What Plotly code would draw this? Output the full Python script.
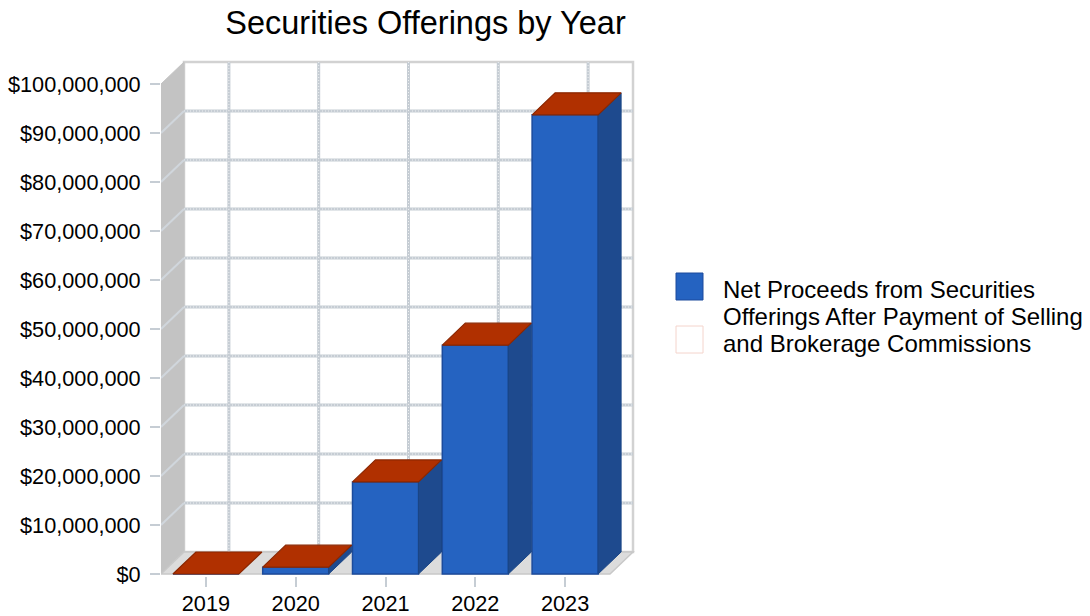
import plotly.graph_objects as go

# ---- data ----
years = ["2019", "2020", "2021", "2022", "2023"]
net_proceeds = [0, 1_400_000, 18_800_000, 46_700_000, 93_700_000]
tick_values = [0, 10_000_000, 20_000_000, 30_000_000, 40_000_000, 50_000_000,
               60_000_000, 70_000_000, 80_000_000, 90_000_000, 100_000_000]
tick_labels = ["$0", "$10,000,000", "$20,000,000", "$30,000,000", "$40,000,000",
               "$50,000,000", "$60,000,000", "$70,000,000", "$80,000,000",
               "$90,000,000", "$100,000,000"]
title_text = "Securities Offerings by Year"
legend_lines = ["Net Proceeds from Securities",
                "Offerings After Payment of Selling",
                "and Brokerage Commissions"]

# ---- geometry (pixels) ----
W, H = 1090, 616
FRONT_L, FRONT_R = 161, 610
FRONT_BOT, FRONT_TOP = 574, 84
DEPTH_X, DEPTH_Y = 23, 22
PAD_R, PAD_T, PAD_B = 3, 3, 2

n = len(years)
ymax = tick_values[-1]
ux = n / (FRONT_R - FRONT_L)           # data units per px (x)
uy = ymax / (FRONT_BOT - FRONT_TOP)    # data units per px (y)
dx = DEPTH_X * ux
dy = DEPTH_Y * uy
bar_w = 0.735

x_lo, x_hi = -0.5, n - 0.5 + dx + PAD_R * ux
y_lo, y_hi = -PAD_B * uy, ymax + dy + PAD_T * uy

plot_w = FRONT_R - FRONT_L + DEPTH_X + PAD_R
plot_h = FRONT_BOT - FRONT_TOP + DEPTH_Y + PAD_T + PAD_B
m_l = FRONT_L
m_r = W - m_l - plot_w
m_b = H - (FRONT_BOT + PAD_B)
m_t = H - m_b - plot_h

def px2paper_x(px):
    return (px - m_l) / plot_w

def px2paper_y(py):
    return (H - m_b - py) / plot_h

FONT = "Liberation Sans, Arial, sans-serif"
AX_FONT = 21.7
C_FRONT = "#2563C1"
C_FRONT_LINE = "#1C4B9C"
C_SIDE = "#1E4A8E"
C_TOP = "#B03000"
C_TOP_LINE = "#8A2600"
C_GRID = "#C6CDD4"

fig = go.Figure()

# front faces
fig.add_trace(go.Bar(
    x=list(range(n)), y=net_proceeds, width=bar_w,
    marker=dict(color=C_FRONT, line=dict(color=C_FRONT_LINE, width=1.5)),
    showlegend=False, hoverinfo="skip",
))

# side and top faces
for i, v in enumerate(net_proceeds):
    x0, x1 = i - bar_w / 2, i + bar_w / 2
    if v > 0:
        fig.add_trace(go.Scatter(
            x=[x1, x1, x1 + dx, x1 + dx, x1], y=[0, v, v + dy, dy, 0],
            fill="toself", fillcolor=C_SIDE, mode="lines",
            line=dict(color="#1A4585", width=1), showlegend=False, hoverinfo="skip"))
    fig.add_trace(go.Scatter(
        x=[x0, x1, x1 + dx, x0 + dx, x0], y=[v, v, v + dy, v + dy, v],
        fill="toself", fillcolor=C_TOP, mode="lines",
        line=dict(color=C_TOP_LINE, width=1.2), showlegend=False, hoverinfo="skip"))

shapes = []
# back wall
shapes.append(dict(type="rect", xref="x", yref="y", layer="below",
                   x0=-0.5 + dx, x1=n - 0.5 + dx, y0=dy, y1=ymax + dy,
                   fillcolor="white", line=dict(color="#D2D2D2", width=2.5)))
# left wall
shapes.append(dict(type="path", xref="x", yref="y", layer="below",
                   path=f"M {-0.5},{0} L {-0.5},{ymax} L {-0.5 + dx},{ymax + dy} L {-0.5 + dx},{dy} Z",
                   fillcolor="#C3C3C3", line=dict(color="#C3C3C3", width=1)))
# floor
shapes.append(dict(type="path", xref="x", yref="y", layer="below",
                   path=f"M {-0.5},{0} L {n - 0.5},{0} L {n - 0.5 + dx},{dy} L {-0.5 + dx},{dy} Z",
                   fillcolor="#DCDCDC", line=dict(color="#C8C8C8", width=1.5)))

def grid_line(x0, x1, y0, y1):
    shapes.append(dict(type="line", xref="x", yref="y", layer="below",
                       x0=x0, x1=x1, y0=y0, y1=y1,
                       line=dict(color=C_GRID, width=3)))
    shapes.append(dict(type="line", xref="x", yref="y", layer="below",
                       x0=x0, x1=x1, y0=y0, y1=y1,
                       line=dict(color="#EEF0F2", width=1, dash="1px,2px")))

# horizontal grid on back wall + diagonals on left wall
for v in tick_values[1:-1]:
    grid_line(-0.5 + dx, n - 0.5 + dx, v + dy, v + dy)
    shapes.append(dict(type="line", xref="x", yref="y", layer="below",
                       x0=-0.5, x1=-0.5 + dx, y0=v, y1=v + dy,
                       line=dict(color="#D0D6DC", width=2)))
# vertical grid on back wall
for i in range(n):
    grid_line(i + dx, i + dx, dy, ymax + dy)

# legend (manual)
shapes.append(dict(type="rect", xref="paper", yref="paper",
                   x0=px2paper_x(676), x1=px2paper_x(703),
                   y0=px2paper_y(300), y1=px2paper_y(273),
                   fillcolor=C_FRONT, line=dict(color=C_FRONT_LINE, width=1)))
shapes.append(dict(type="rect", xref="paper", yref="paper",
                   x0=px2paper_x(676), x1=px2paper_x(703),
                   y0=px2paper_y(353), y1=px2paper_y(326),
                   fillcolor="rgba(0,0,0,0)", line=dict(color="#F4D4CC", width=1)))

annotations = []
for k, line in enumerate(legend_lines):
    annotations.append(dict(
        xref="paper", yref="paper", x=px2paper_x(721), y=px2paper_y(289 + 27.2 * k),
        xanchor="left", yanchor="middle", align="left", showarrow=False,
        text=line, font=dict(family=FONT, size=24, color="#000000")))

fig.update_layout(
    width=W, height=H,
    margin=dict(l=m_l, r=m_r, t=m_t, b=m_b, pad=0, autoexpand=False),
    paper_bgcolor="white", plot_bgcolor="rgba(0,0,0,0)",
    title=dict(text=title_text, xref="container", yref="container",
               x=425.5 / W, y=1 - 23 / H, xanchor="center", yanchor="middle",
               font=dict(family=FONT, size=32.5, color="#000000")),
    font=dict(family=FONT, size=AX_FONT, color="#000000"),
    xaxis=dict(range=[x_lo, x_hi], tickmode="array", tickvals=list(range(n)),
               ticktext=years, showgrid=False, zeroline=False, showline=False,
               ticks="outside", ticklen=10, tickwidth=2, tickcolor=C_GRID,
               ticklabelstandoff=-2, fixedrange=True, automargin=False),
    yaxis=dict(range=[y_lo, y_hi], tickmode="array", tickvals=tick_values,
               ticktext=tick_labels, showgrid=False, zeroline=False, showline=False,
               ticks="outside", ticklen=10, tickwidth=2, tickcolor=C_GRID,
               ticklabelstandoff=5, fixedrange=True, automargin=False),
    shapes=shapes, annotations=annotations, showlegend=False,
)

fig.write_html("out.html")
